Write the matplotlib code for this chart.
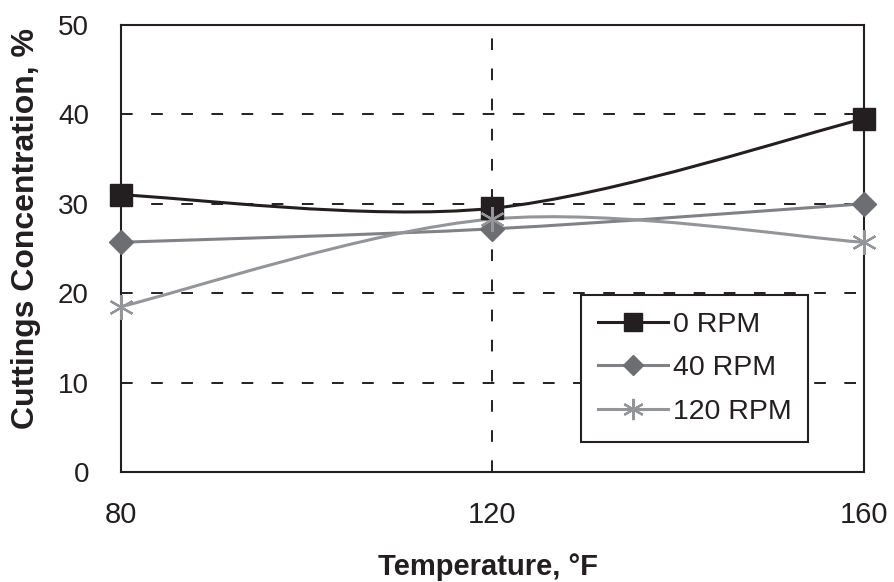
import numpy as np
import matplotlib
matplotlib.use("Agg")
from matplotlib import pyplot as plt
from matplotlib.path import Path
from matplotlib.patches import PathPatch
from matplotlib.lines import Line2D

temps = [80, 120, 160]
rpm_0 = [31.0, 29.5, 39.5]
rpm_40 = [25.7, 27.2, 30.0]
rpm_120 = [18.5, 28.3, 25.7]
labels = ["0 RPM", "40 RPM", "120 RPM"]
x_ticks = [80, 120, 160]
y_ticks = [0, 10, 20, 30, 40, 50]

plt.rcParams['font.family'] = ['Liberation Sans', 'DejaVu Sans']
TXT = '#231f20'


def smooth_path(xs, ys):
    """Excel-style smoothed line as cubic Bezier path through the points."""
    pts = np.column_stack([xs, ys]).astype(float)
    n = len(pts)
    verts = [pts[0]]
    codes = [Path.MOVETO]
    for i in range(n - 1):
        p0 = pts[i - 1] if i > 0 else pts[i]
        p1 = pts[i]
        p2 = pts[i + 1]
        p3 = pts[i + 2] if i + 2 < n else pts[i + 1]
        verts += [p1 + (p2 - p0) / 6, p2 - (p3 - p1) / 6, p2]
        codes += [Path.CURVE4] * 3
    return Path(verts, codes)


fig = plt.figure(figsize=(8.95, 5.82), dpi=100)
ax = fig.add_axes([0.135, 0.189, 0.830, 0.768])

series = [
    (rpm_0, '#231f20', 's', 16, '#231f20', 1.0),
    (rpm_40, '#808285', 'D', 12.5, '#6d6e71', 1.0),
    (rpm_120, '#939598', (6, 2, 0), 18, '#939598', 1.6),
]
handles = []
for (vals, col, mk, ms, mcol, mew), lab in zip(series, labels):
    ax.add_patch(PathPatch(smooth_path(temps, vals), fill=False,
                           edgecolor=col, lw=2.2, zorder=3))
    ax.plot(temps, vals, ls='none', marker=mk, ms=ms, color=mcol,
            mec=mcol, mew=mew, zorder=4, clip_on=False)
    handles.append(Line2D([], [], color=col, lw=2.2, marker=mk, ms=ms * 0.85,
                          mfc=mcol, mec=mcol, mew=mew))

ax.set_xlim(80, 160)
ax.set_ylim(0, 50)
ax.set_xticks(x_ticks)
ax.set_yticks(y_ticks)
for v in y_ticks[1:-1]:
    ax.axhline(v, color=TXT, lw=1.4, dashes=(6, 9.5), zorder=1)
ax.axvline(120, color=TXT, lw=1.4, dashes=(6, 9.5), zorder=1)

for s in ax.spines.values():
    s.set_color(TXT)
    s.set_linewidth(1.5)

ax.tick_params(axis='both', length=0, colors=TXT)
ax.tick_params(axis='y', pad=23, labelsize=20)
ax.tick_params(axis='x', pad=21, labelsize=21)

fig.text(0.029, 0.607, 'Cuttings Concentration, %', rotation=90,
         ha='center', va='center', fontsize=23, fontweight='bold', color=TXT)
fig.text(0.545, 0.012, 'Temperature, \u00b0F', ha='center', va='baseline',
         fontsize=21, fontweight='bold', color=TXT)

leg = ax.legend(handles, labels, loc='lower left',
                bbox_to_anchor=(0.620, 0.067), fontsize=20.5,
                handlelength=2.45, handletextpad=0.15, labelspacing=0.62,
                borderpad=0.6, borderaxespad=0, fancybox=False,
                framealpha=1, edgecolor=TXT)
leg.get_frame().set_linewidth(1.5)
for t in leg.get_texts():
    t.set_color(TXT)

fig.savefig('out.png', dpi=100)
